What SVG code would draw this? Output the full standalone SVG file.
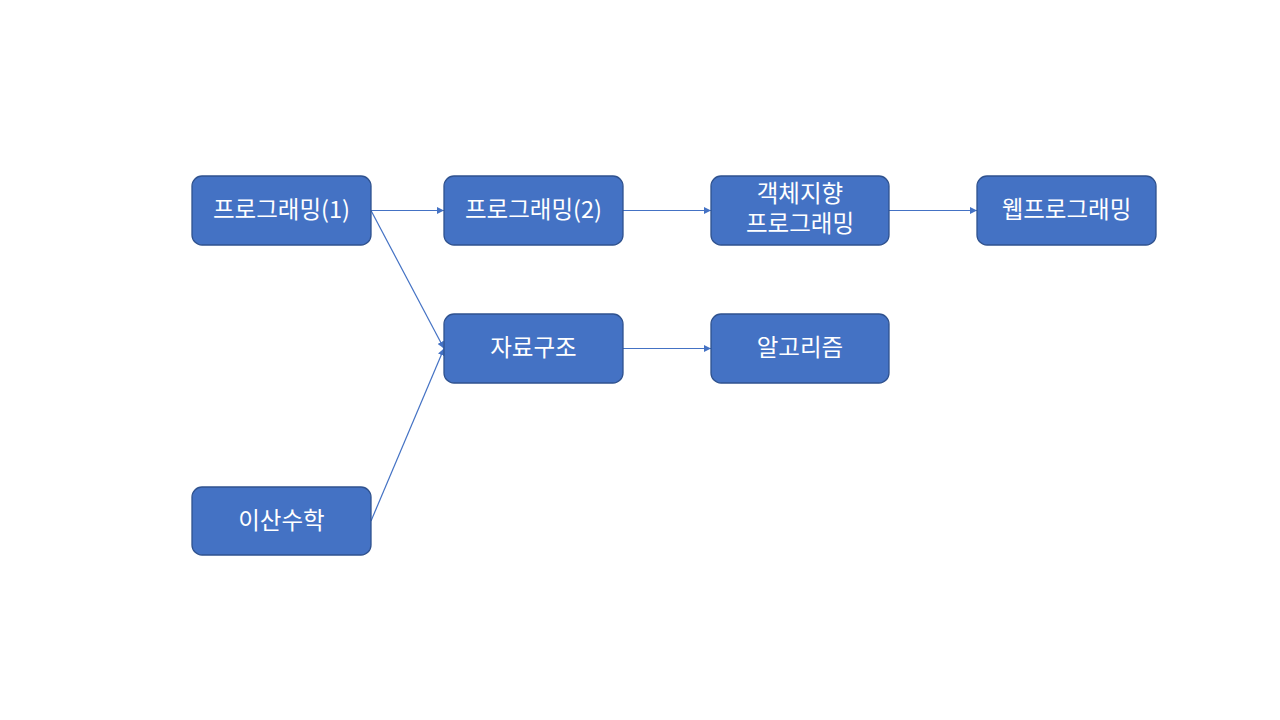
<svg xmlns="http://www.w3.org/2000/svg" width="1280" height="720" viewBox="0 0 1280 720">
<style>
.box{fill:#4472C4;stroke:#2F528F;stroke-width:1.3}
.lbl{fill:#FFFFFF;font-family:"Noto Sans CJK KR","Noto Sans",sans-serif;font-size:23.5px;text-anchor:middle;dominant-baseline:central}
.conn{stroke:#4472C4;stroke-width:1.2;fill:none;marker-end:url(#arr)}
</style>
<defs>
<marker id="arr" viewBox="0 0 10 10" refX="10" refY="5" markerWidth="7" markerHeight="7" markerUnits="userSpaceOnUse" orient="auto">
<path d="M0,0 L10,5 L0,10 z" fill="#4472C4"/>
</marker>
</defs>
<rect width="1280" height="720" fill="#FFFFFF"/>
<g id="connectors">
<line class="conn" x1="371" y1="210.5" x2="444" y2="210.5"/>
<line class="conn" x1="623" y1="210.5" x2="711" y2="210.5"/>
<line class="conn" x1="889" y1="210.5" x2="977" y2="210.5"/>
<line class="conn" x1="371" y1="210.5" x2="444" y2="348.5"/>
<line class="conn" x1="371" y1="521" x2="444" y2="348.5"/>
<line class="conn" x1="623" y1="348.5" x2="711" y2="348.5"/>
</g>
<g id="n-prog1"><rect class="box" x="192" y="176" width="179" height="69" rx="10"/><text class="lbl" x="281.5" y="208">프로그래밍(1)</text></g>
<g id="n-prog2"><rect class="box" x="444" y="176" width="179" height="69" rx="10"/><text class="lbl" x="533.5" y="208">프로그래밍(2)</text></g>
<g id="n-oop"><rect class="box" x="711" y="176" width="178" height="69" rx="10"/><text class="lbl" x="800" y="192">객체지향</text><text class="lbl" x="800" y="222">프로그래밍</text></g>
<g id="n-web"><rect class="box" x="977" y="176" width="179" height="69" rx="10"/><text class="lbl" x="1066.5" y="208">웹프로그래밍</text></g>
<g id="n-ds"><rect class="box" x="444" y="314" width="179" height="69" rx="10"/><text class="lbl" x="533.5" y="346">자료구조</text></g>
<g id="n-algo"><rect class="box" x="711" y="314" width="178" height="69" rx="10"/><text class="lbl" x="800" y="346">알고리즘</text></g>
<g id="n-discrete"><rect class="box" x="192" y="487" width="179" height="68" rx="10"/><text class="lbl" x="281.5" y="518.5">이산수학</text></g>
</svg>
